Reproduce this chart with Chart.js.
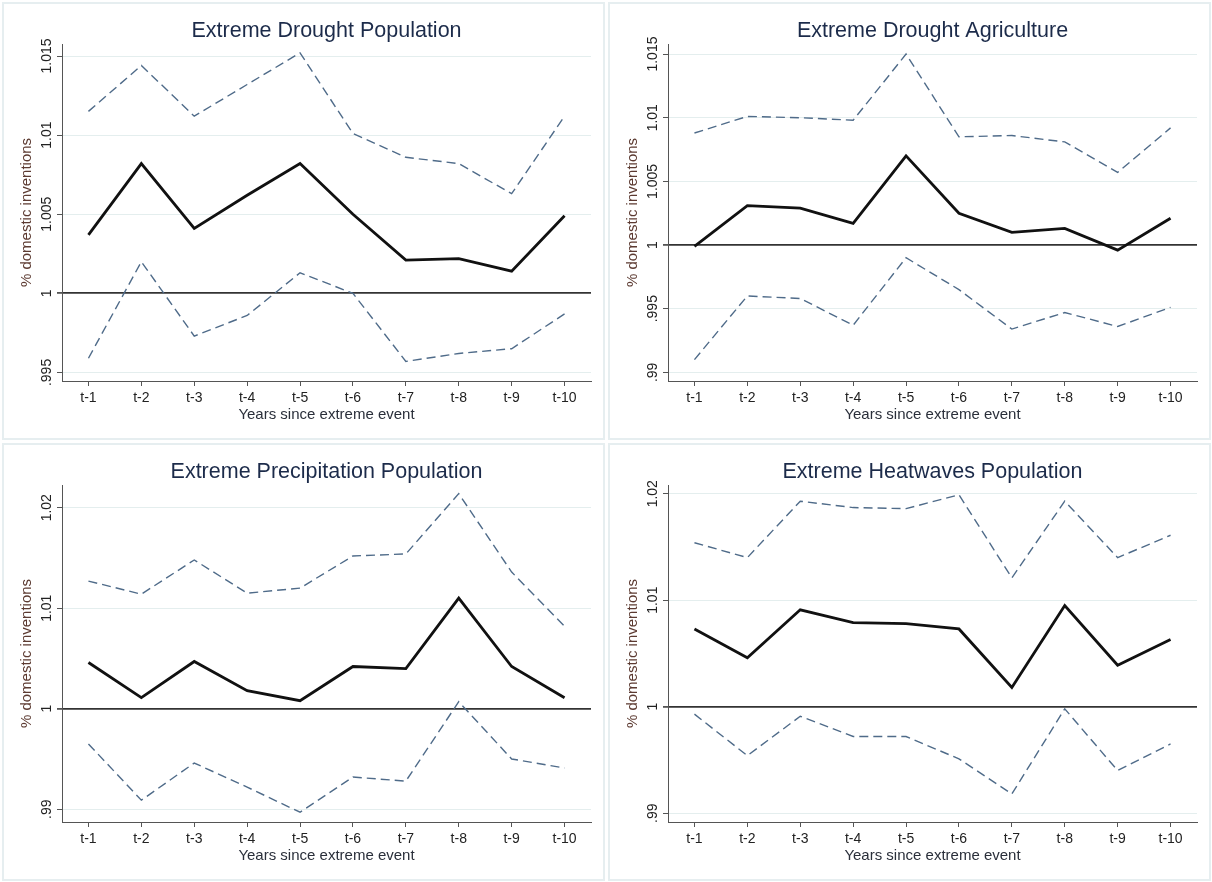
<!DOCTYPE html>
<html>
<head>
<meta charset="utf-8">
<script src="https://cdn.jsdelivr.net/npm/chart.js@4.4.1/dist/chart.umd.min.js"></script>
<style>
	body { margin: 0; background: #fff; }
	#fig { position: relative; width: 1212px; height: 882px; }
	.panel { position: absolute; width: 606px; height: 441px; }
	.panel canvas { position: absolute; left: 0; top: 0; }
	.frame { position: absolute; left: 2px; top: 2px; width: 603px; height: 438px; box-sizing: border-box; border: 2px solid #e6eef0; pointer-events: none; }
</style>
</head>
<body>
<div id="fig">
	<div class="panel" style="left:0;top:0"><canvas id="chart1" width="606" height="441"></canvas><div class="frame"></div></div>
	<div class="panel" style="left:606px;top:0"><canvas id="chart2" width="606" height="441"></canvas><div class="frame"></div></div>
	<div class="panel" style="left:0;top:441px"><canvas id="chart3" width="606" height="441"></canvas><div class="frame"></div></div>
	<div class="panel" style="left:606px;top:441px"><canvas id="chart4" width="606" height="441"></canvas><div class="frame"></div></div>
</div>
<script>
const periods = ['t-1', 't-2', 't-3', 't-4', 't-5', 't-6', 't-7', 't-8', 't-9', 't-10'];

// Extreme Drought Population
const droughtPopEst = [1.0037, 1.0082, 1.0041, 1.0062, 1.0082, 1.0050, 1.0021, 1.0022, 1.0014, 1.0049];
const droughtPopUpper = [1.0115, 1.0144, 1.0112, 1.0132, 1.0152, 1.0101, 1.0086, 1.0082, 1.0063, 1.0112];
const droughtPopLower = [0.9959, 1.0020, 0.9973, 0.9986, 1.0013, 1.0000, 0.9957, 0.9962, 0.9965, 0.9987];
const droughtPopTicks = [0.995, 1, 1.005, 1.01, 1.015];

// Extreme Drought Agriculture
const droughtAgrEst = [0.9999, 1.0031, 1.0029, 1.0017, 1.0070, 1.0025, 1.0010, 1.0013, 0.9996, 1.0021];
const droughtAgrUpper = [1.0088, 1.0101, 1.0100, 1.0098, 1.0150, 1.0085, 1.0086, 1.0081, 1.0057, 1.0092];
const droughtAgrLower = [0.9910, 0.9960, 0.9958, 0.9937, 0.9990, 0.9965, 0.9934, 0.9947, 0.9936, 0.9951];
const droughtAgrTicks = [0.99, 0.995, 1, 1.005, 1.01, 1.015];

// Extreme Precipitation Population
const precipPopEst = [1.0046, 1.0011, 1.0047, 1.0018, 1.0008, 1.0042, 1.0040, 1.0110, 1.0042, 1.0011];
const precipPopUpper = [1.0127, 1.0114, 1.0148, 1.0115, 1.0120, 1.0152, 1.0154, 1.0214, 1.0136, 1.0082];
const precipPopLower = [0.9965, 0.9909, 0.9946, 0.9922, 0.9897, 0.9932, 0.9928, 1.0007, 0.9950, 0.9941];
const precipPopTicks = [0.99, 1, 1.01, 1.02];

// Extreme Heatwaves Population
const heatPopEst = [1.0073, 1.0046, 1.0091, 1.0079, 1.0078, 1.0073, 1.0018, 1.0095, 1.0039, 1.0063];
const heatPopUpper = [1.0154, 1.0140, 1.0193, 1.0187, 1.0186, 1.0199, 1.0121, 1.0193, 1.0140, 1.0161];
const heatPopLower = [0.9993, 0.9954, 0.9991, 0.9972, 0.9972, 0.9951, 0.9918, 0.9998, 0.9940, 0.9965];
const heatPopTicks = [0.99, 1, 1.01, 1.02];

const FONT = '"Liberation Sans", Arial, sans-serif';
const TICK_FONT_SIZE = 14;

// stata style labels: .995 instead of 0.995
const stataLabel = function (v) {
	let s = String(+Number(v).toFixed(3));
	if (s.startsWith('0.')) s = s.slice(1);
	return s;
};

const measure = document.createElement('canvas').getContext('2d');
measure.font = TICK_FONT_SIZE + 'px ' + FONT;

const isOne = ctx => ctx.tick && Math.abs(ctx.tick.value - 1) < 1e-9;

const makePanel = function (canvasId, title, est, upper, lower, yTicks, yMin, yMax) {

	// padding so the rotated labels sit centred at x = 47
	let widest = 0;
	yTicks.forEach(v => {
		widest = Math.max(widest, measure.measureText(stataLabel(v)).width);
	});
	const yPad = 62 - 5 - 47 - widest / 2;

	const ciStyle = {
		borderColor: '#4f6b89',
		borderWidth: 1.4,
		borderDash: [9, 5],
		pointRadius: 0,
		fill: false,
		tension: 0
	};

	const data = {
		labels: periods,
		datasets: [
			Object.assign({ label: 'upper', data: upper }, ciStyle),
			Object.assign({ label: 'lower', data: lower }, ciStyle),
			{
				label: 'estimate',
				data: est,
				borderColor: '#111111',
				borderWidth: 2.8,
				pointRadius: 0,
				fill: false,
				tension: 0
			}
		]
	};

	const config = {
		type: 'line',
		data: data,
		options: {
			responsive: false,
			animation: false,
			devicePixelRatio: 1,
			layout: { padding: { left: 0, right: 15, top: 0, bottom: 17 } },
			plugins: {
				legend: { display: false },
				tooltip: { enabled: false },
				title: {
					display: true,
					fullSize: false,
					text: title,
					color: '#1c2b4a',
					font: { family: FONT, size: 21.5, weight: 'normal' },
					padding: { top: 18.2, bottom: 0 }
				}
			},
			scales: {
				x: {
					type: 'category',
					offset: true,
					afterFit: function (scale) { scale.height = 43; },
					border: { color: '#555555', width: 1 },
					grid: {
						drawOnChartArea: false,
						drawTicks: true,
						tickLength: 5,
						tickColor: '#555555'
					},
					ticks: {
						color: '#222222',
						padding: 4,
						maxRotation: 0,
						autoSkip: false,
						font: { family: FONT, size: TICK_FONT_SIZE }
					},
					title: {
						display: true,
						text: 'Years since extreme event',
						color: '#2a2f3a',
						font: { family: FONT, size: 15 },
						padding: 0
					}
				},
				y: {
					type: 'linear',
					min: yMin,
					max: yMax,
					afterFit: function (scale) { scale.width = 62; },
					afterBuildTicks: function (scale) {
						scale.ticks = yTicks.map(v => ({ value: v }));
					},
					border: { color: '#555555', width: 1 },
					grid: {
						drawTicks: true,
						tickLength: 5,
						tickColor: '#555555',
						color: ctx => isOne(ctx) ? '#333333' : '#e4eeee',
						lineWidth: ctx => isOne(ctx) ? 1.8 : 1
					},
					ticks: {
						color: '#222222',
						minRotation: 90,
						maxRotation: 90,
						crossAlign: 'center',
						padding: yPad,
						font: { family: FONT, size: TICK_FONT_SIZE },
						callback: function (value) { return stataLabel(value); }
					},
					title: {
						display: true,
						text: '% domestic inventions',
						color: '#5c3a31',
						font: { family: FONT, size: 15 },
						padding: { top: 18, bottom: 0 }
					}
				}
			}
		}
	};

	return new Chart(document.getElementById(canvasId), config);
};

makePanel('chart1', 'Extreme Drought Population', droughtPopEst, droughtPopUpper, droughtPopLower, droughtPopTicks, 0.99446, 1.01576);
makePanel('chart2', 'Extreme Drought Agriculture', droughtAgrEst, droughtAgrUpper, droughtAgrLower, droughtAgrTicks, 0.98932, 1.01579);
makePanel('chart3', 'Extreme Precipitation Population', precipPopEst, precipPopUpper, precipPopLower, precipPopTicks, 0.98873, 1.02226);
makePanel('chart4', 'Extreme Heatwaves Population', heatPopEst, heatPopUpper, heatPopLower, heatPopTicks, 0.98917, 1.02082);
</script>
</body>
</html>
